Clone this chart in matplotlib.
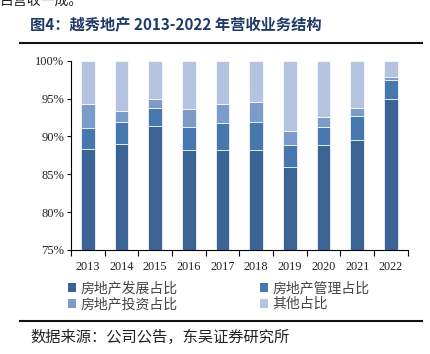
import matplotlib
matplotlib.use("Agg")
import matplotlib.pyplot as plt
from matplotlib.patches import Patch
from matplotlib.lines import Line2D
import numpy as np

years = ["2013", "2014", "2015", "2016", "2017", "2018", "2019", "2020", "2021", "2022"]
dev = [88.4, 89.0, 91.4, 88.2, 88.2, 88.2, 85.9, 88.9, 89.5, 95.0]
mgmt = [2.7, 2.9, 2.4, 3.0, 3.6, 3.7, 3.0, 2.4, 3.15, 2.5]
invest = [3.2, 1.45, 1.1, 2.4, 2.5, 2.7, 1.8, 1.3, 1.15, 0.4]
other = [5.7, 6.65, 5.1, 6.4, 5.7, 5.4, 9.3, 7.4, 6.2, 2.1]
series_names = ["房地产发展占比", "房地产管理占比", "房地产投资占比", "其他占比"]
yticks = [75, 80, 85, 90, 95, 100]
colors = ["#3B6495", "#4777AF", "#7C9BC8", "#B4C3DF"]

cjk = ["Noto Sans CJK SC", "DejaVu Sans"]
serif = ["Liberation Serif", "DejaVu Serif"]

W, H = 430, 354
fig = plt.figure(figsize=(W / 100, H / 100), dpi=100)
ax = fig.add_axes([71 / W, 1 - 250 / H, (407.7 - 71) / W, (250 - 60.7) / H])

x = np.arange(len(years))
bottom = np.zeros(len(years))
for vals, c, name in zip([dev, mgmt, invest, other], colors, series_names):
    ax.bar(x, vals, width=0.4, bottom=bottom, color=c, edgecolor="white",
           linewidth=0.5, label=name)
    bottom += np.array(vals)

ax.set_ylim(75, 100)
ax.set_xlim(-0.5, len(years) - 0.5)
ax.set_yticks(yticks)
ax.set_yticklabels([f"{v}%" for v in yticks], family=serif, fontsize=9, color="#222222")
ax.set_xticks(x)
ax.set_xticklabels(years, family=serif, fontsize=8.8, color="#222222")
ax.tick_params(axis="x", length=0, pad=8)
ax.set_xticks(np.arange(-0.5, len(years)), minor=True)
ax.tick_params(axis="x", which="minor", length=4, width=0.8, direction="out", color="black")
ax.tick_params(axis="y", length=3, width=0.8, direction="out", pad=2)
for s in ["top", "right"]:
    ax.spines[s].set_visible(False)
for s in ["left", "bottom"]:
    ax.spines[s].set_linewidth(0.8)
    ax.spines[s].set_color("black")

handles = [Patch(facecolor=c, edgecolor="none") for c in colors]
order = [0, 2, 1, 3]
leg = fig.legend([handles[i] for i in order], [series_names[i] for i in order],
                 ncol=2, loc="upper left", bbox_to_anchor=(68 / W, 1 - 281 / H),
                 frameon=False, prop={"family": cjk, "size": 10},
                 handlelength=0.6, handleheight=0.6, handletextpad=0.3,
                 columnspacing=5.9, labelspacing=0.15, borderaxespad=0, borderpad=0)
for t in leg.get_texts():
    t.set_color("#444444")

# Title and rules
fig.text(30 / W, 1 - 25 / H, "图4：越秀地产 2013-2022 年营收业务结构", family=cjk,
         fontsize=11, fontweight="bold", color="#1F3A66", va="center", ha="left")
fig.text(0 / W, 1 - 1 / H, "占营收一成。", family=cjk, fontsize=10, color="#222222",
         va="center", ha="left")
fig.add_artist(Line2D([20 / W, 421.7 / W], [1 - 43 / H, 1 - 43 / H], color="#111111", lw=1.5))
fig.add_artist(Line2D([20 / W, 421.7 / W], [1 - 321 / H, 1 - 321 / H], color="#111111", lw=1.5))
fig.text(30 / W, 1 - 337 / H, "数据来源：公司公告，东吴证券研究所", family=cjk,
         fontsize=11, color="#222222", va="center", ha="left")

fig.savefig("out.png", dpi=100)
